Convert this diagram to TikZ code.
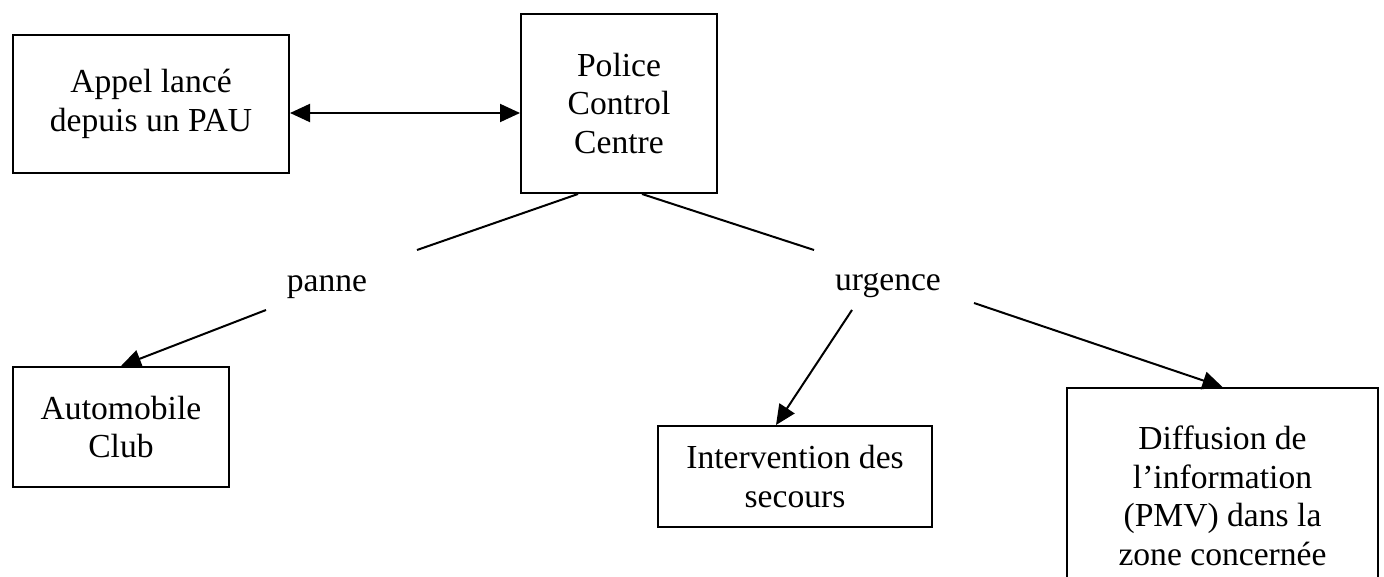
\documentclass[tikz,border=0pt]{standalone}
\usepackage{fontspec}
\setmainfont{Liberation Serif}
\usetikzlibrary{calc,arrows.meta}
\tikzset{
  box/.style={draw, line width=1pt, align=center, inner sep=0pt,
    font=\fontsize{16.8}{19.3}\selectfont},
  tag/.style={inner sep=0pt, font=\fontsize{16.8}{19.3}\selectfont},
  link/.style={line width=1pt},
  flow/.style={line width=1pt, -{Triangle[length=10pt,width=9pt]}},
  dual/.style={line width=1pt, {Triangle[length=10pt,width=9pt]}-{Triangle[length=10pt,width=9pt]}}
}

\begin{document}
\begin{tikzpicture}[x=0.5pt, y=-0.5pt]

  \useasboundingbox (0,0) rectangle (1384,577);

  % boxes
  \node[box, minimum width=138pt, minimum height=69pt] (appel) at (151,104) {Appel lancé\\depuis un PAU};
  \node[box, minimum width=98pt, minimum height=89.5pt] (police) at (619,103.5) {Police\\Control\\Centre};
  \node[box, minimum width=108pt, minimum height=60pt] (auto) at (121,427) {Automobile\\Club};
  \node[box, minimum width=137pt, minimum height=50.5pt] (secours) at (795,476.5) {Intervention des\\secours};
  \node[box, anchor=north, minimum width=155.5pt, minimum height=108pt] (diffusion) at (1222.5,387)
    {Diffusion de\\l'information\\(PMV) dans la\\zone concernée};

  % labels
  \node[tag] (panne) at (327,287) {panne};
  \node[tag] (urgence) at (888,286) {urgence};

  % call <-> control centre
  \coordinate (a) at ($(appel.east)+(0,9)$);
  \draw[dual] (a) -- (police.west |- a);

  % panne branch
  \draw[link] ($(police.south)+(-41,0)$) -- ($(panne)+(90,-37)$);
  \draw[flow] ($(panne)+(-61,23)$) -- (auto.north);

  % urgence branch
  \draw[link] ($(police.south)+(23,0)$) -- ($(urgence)+(-74,-36)$);
  \draw[flow] ($(urgence)+(-36,24)$) -- ($(secours.north)+(-19,0)$);
  \draw[flow] ($(urgence)+(86,17)$) -- (diffusion.north);

\end{tikzpicture}
\end{document}
